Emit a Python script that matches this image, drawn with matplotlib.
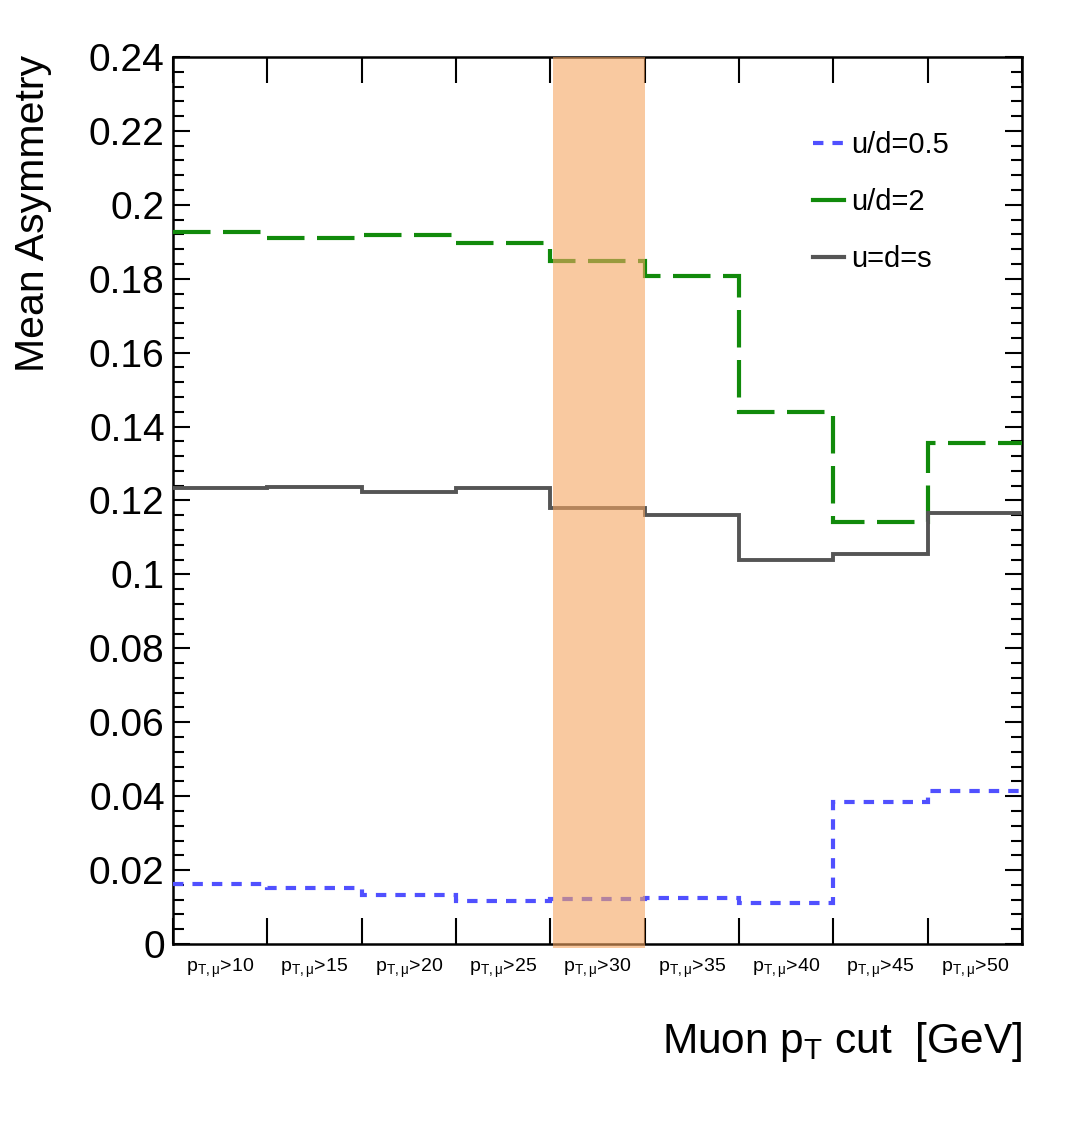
import matplotlib
matplotlib.use("Agg")
import matplotlib.pyplot as plt
from matplotlib.lines import Line2D
from matplotlib.ticker import FixedLocator, MultipleLocator, FuncFormatter
import numpy as np

# data ==========================================================================
cuts = ["10", "15", "20", "25", "30", "35", "40", "45", "50"]
asym_ud05 = [0.0161, 0.0152, 0.0133, 0.0116, 0.0121, 0.0125, 0.0112, 0.0385, 0.0414]
asym_ud2 = [0.1927, 0.1911, 0.1918, 0.1896, 0.1849, 0.1807, 0.1440, 0.1141, 0.1356]
asym_uds = [0.1233, 0.1237, 0.1224, 0.1233, 0.1179, 0.1161, 0.1039, 0.1054, 0.1165]
band_range = [4.03, 5.0]  # highlighted pT>30 bin

plt.rcParams['font.family'] = ['Liberation Sans', 'DejaVu Sans']
plt.rcParams['mathtext.fontset'] = 'custom'
plt.rcParams['mathtext.rm'] = 'Liberation Sans'
plt.rcParams['mathtext.it'] = 'Liberation Sans'
plt.rcParams['lines.scale_dashes'] = False

blue = '#5050ff'
green = '#118a0b'
grey = '#555555'

fig = plt.figure(figsize=(10.77, 11.25), dpi=100)
ax = fig.add_axes([173 / 1077, 1 - 944 / 1125, 849 / 1077, 887 / 1125])

edges = np.arange(len(cuts) + 1)
ax.stairs(asym_ud05, edges, baseline=None, color=blue, linewidth=3.0,
          linestyle=(0, (7.5, 6.5)), zorder=3)
ax.stairs(asym_ud2, edges, baseline=None, color=green, linewidth=3.0,
          linestyle=(0, (27, 9)), zorder=3)
ax.stairs(asym_uds, edges, baseline=None, color=grey, linewidth=2.8, zorder=3)

# shaded band on top of the lines
ax.axvspan(band_range[0], band_range[1], ymin=-0.004, ymax=1.0, color='#f5a561',
           alpha=0.6, linewidth=0, zorder=4, clip_on=False)

ax.set_xlim(0, len(cuts))
ax.set_ylim(0, 0.24)

# ticks
ax.xaxis.set_major_locator(FixedLocator(edges))
ax.xaxis.set_minor_locator(FixedLocator(edges[:-1] + 0.5))
ax.set_xticklabels([])
ax.set_xticklabels([r'p$_{\mathregular{T,\mu}}$>' + c for c in cuts], minor=True)
ax.tick_params(axis='x', which='major', direction='in', length=19, width=1.5,
               top=True, bottom=True)
ax.tick_params(axis='x', which='minor', length=0, pad=9, labelsize=14)

ax.yaxis.set_major_locator(MultipleLocator(0.02))
ax.yaxis.set_minor_locator(MultipleLocator(0.004))
ax.yaxis.set_major_formatter(FuncFormatter(lambda v, p: f'{v:g}'))
ax.tick_params(axis='y', which='major', direction='in', length=12, width=1.5,
               left=True, right=True, labelsize=28, pad=6)
ax.tick_params(axis='y', which='minor', direction='in', length=8, width=1.5,
               left=True, right=True)

for s in ax.spines.values():
    s.set_linewidth(1.8)

fig.text(33 / 1077, 1 - 55 / 1125, 'Mean Asymmetry', rotation=90,
         ha='center', va='top', fontsize=29.5)
fig.text(1022 / 1077, 1 - 1053 / 1125, r'Muon p$_{\mathregular{T}}$ cut  [GeV]',
         ha='right', va='baseline', fontsize=30.5)

handles = [
    Line2D([], [], color=blue, linewidth=3.0, linestyle=(0, (7.5, 6.5))),
    Line2D([], [], color=green, linewidth=3.0),
    Line2D([], [], color=grey, linewidth=3.0),
]
ax.legend(handles, ['u/d=0.5', 'u/d=2', 'u=d=s'], loc='upper left',
          bbox_to_anchor=((813 - 173) / 849, (944 - 131) / 887),
          frameon=False, fontsize=21, handlelength=1.05, handletextpad=0.25,
          labelspacing=1.0, borderpad=0, borderaxespad=0)

fig.savefig('out.png', dpi=100)
